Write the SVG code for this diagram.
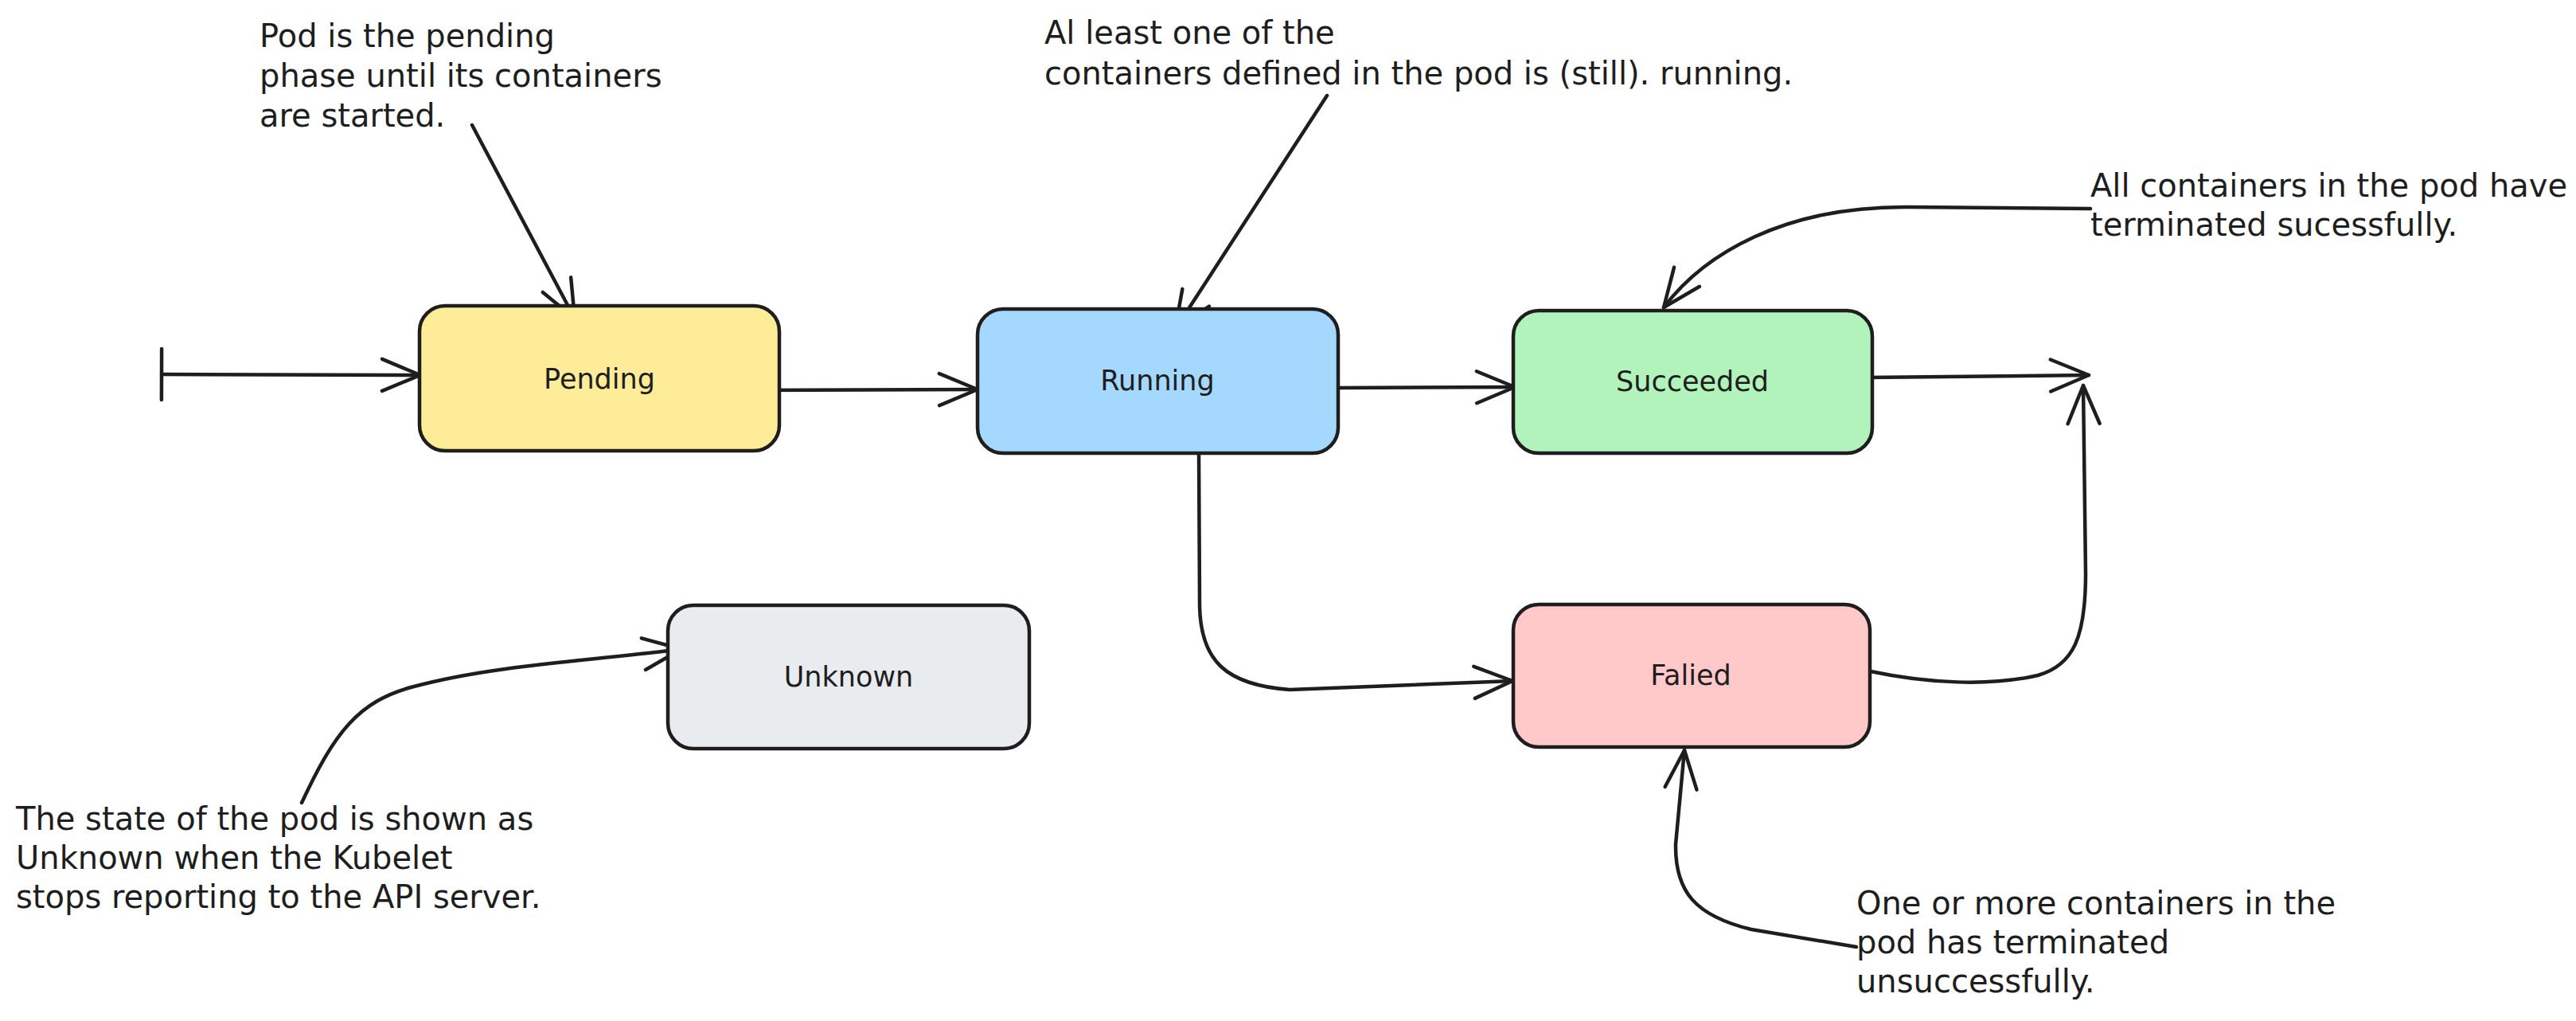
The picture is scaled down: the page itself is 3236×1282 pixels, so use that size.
<svg xmlns="http://www.w3.org/2000/svg" width="3236" height="1282" viewBox="0 0 3236 1282">
<style>
.node{stroke:#1e1e1e;stroke-width:4.5;}
.lbl{font-family:"DejaVu Sans","Liberation Sans",sans-serif;font-size:35px;fill:#1e1e1e;text-anchor:middle;}
.note{font-family:"DejaVu Sans","Liberation Sans",sans-serif;font-size:40px;fill:#1e1e1e;}
.conn{fill:none;stroke:#1e1e1e;stroke-width:4.5;stroke-linecap:round;stroke-linejoin:round;}
</style>
<defs>
<marker id="arr" markerUnits="userSpaceOnUse" markerWidth="80" markerHeight="80" viewBox="0 0 80 80" refX="60" refY="40" orient="auto">
<path d="M12 20 L60 40 L12 60" fill="none" stroke="#1e1e1e" stroke-width="4.5" stroke-linecap="round" stroke-linejoin="round"/>
</marker>
<marker id="bar" markerUnits="userSpaceOnUse" markerWidth="80" markerHeight="80" viewBox="0 0 80 80" refX="40" refY="40" orient="auto">
<path d="M40 8 L40 72" fill="none" stroke="#1e1e1e" stroke-width="4.5" stroke-linecap="round"/>
</marker>
</defs>
<rect width="3236" height="1282" fill="#ffffff"/>

<g id="connectors">
<path class="conn" d="M203 470 L528 471" marker-start="url(#bar)" marker-end="url(#arr)"/>
<path class="conn" d="M935 490 L1228 489" marker-end="url(#arr)"/>
<path class="conn" d="M1677 487 L1903 486" marker-end="url(#arr)"/>
<path class="conn" d="M2345 474 L2624 471" marker-end="url(#arr)"/>
<path class="conn" d="M2350 843 C2420 858 2500 862 2560 848 C2605 835 2620 800 2620 720 L2617 484" marker-end="url(#arr)"/>
<path class="conn" d="M1506 570 L1507 760 C1508 830 1540 860 1620 866 L1900 855" marker-end="url(#arr)"/>
<path class="conn" d="M593 157 L722 400" marker-end="url(#arr)"/>
<path class="conn" d="M1667 120 L1476 414" marker-end="url(#arr)"/>
<path class="conn" d="M2626 262 L2400 260 C2240 258 2140 320 2090 386" marker-end="url(#arr)"/>
<path class="conn" d="M379 1008 C420 920 450 880 520 862 C620 835 740 830 856 815" marker-end="url(#arr)"/>
<path class="conn" d="M2332 1189 L2200 1167 C2130 1150 2104 1120 2105 1060 L2116 942" marker-end="url(#arr)"/>
</g>

<g id="pending">
<rect class="node" x="527" y="384" width="452" height="182" rx="32" fill="#ffec99"/>
<text class="lbl" x="753" y="488">Pending</text>
</g>
<g id="running">
<rect class="node" x="1228" y="388" width="453" height="181" rx="32" fill="#a5d8ff"/>
<text class="lbl" x="1454" y="490">Running</text>
</g>
<g id="succeeded">
<rect class="node" x="1901" y="390" width="451" height="179" rx="32" fill="#b2f2bb"/>
<text class="lbl" x="2126" y="491">Succeeded</text>
</g>
<g id="unknown">
<rect class="node" x="839" y="760" width="454" height="180" rx="32" fill="#e9ecef"/>
<text class="lbl" x="1066" y="862">Unknown</text>
</g>
<g id="failed">
<rect class="node" x="1901" y="759" width="448" height="179" rx="32" fill="#ffc9c9"/>
<text class="lbl" x="2124" y="860">Falied</text>
</g>

<g id="note-pending">
<text class="note" x="326" y="59">Pod is the pending</text>
<text class="note" x="326" y="109">phase until its containers</text>
<text class="note" x="326" y="159">are started.</text>
</g>
<g id="note-running">
<text class="note" x="1312" y="55">Al least one of the</text>
<text class="note" x="1312" y="106">containers defined in the pod is (still). running.</text>
</g>
<g id="note-succeeded">
<text class="note" x="2626" y="247">All containers in the pod have</text>
<text class="note" x="2626" y="296">terminated sucessfully.</text>
</g>
<g id="note-unknown">
<text class="note" x="20" y="1042">The state of the pod is shown as</text>
<text class="note" x="20" y="1091">Unknown when the Kubelet</text>
<text class="note" x="20" y="1140">stops reporting to the API server.</text>
</g>
<g id="note-failed">
<text class="note" x="2332" y="1148">One or more containers in the</text>
<text class="note" x="2332" y="1197">pod has terminated</text>
<text class="note" x="2332" y="1246">unsuccessfully.</text>
</g>
</svg>
